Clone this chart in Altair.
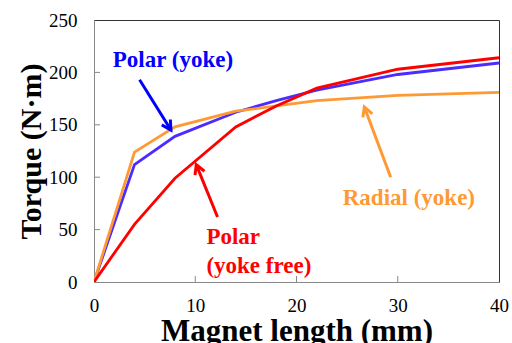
import math
import altair as alt
import pandas as pd

# ---- data ----
x_mm = [0, 4, 8, 14, 18, 22, 30, 40]
polar_yoke = [0, 112, 139, 162, 173, 183, 198, 209]
radial_yoke = [0, 124, 148, 163, 168, 173, 178, 181]
polar_free = [0, 55, 99, 148, 168, 185, 203, 214]

series_names = ["Polar (yoke)", "Radial (yoke)", "Polar (yoke free)"]
series_colors = ["#4a2cff", "#ff9933", "#ff0000"]

# annotation arrows (tail x, tail y, tip x, tip y) in data units
arrow_names = ["blue", "red", "orange"]
arrow_x = [4.5, 12.2, 29.3]
arrow_y = [193, 62, 100]
arrow_x2 = [7.6, 10.1, 26.7]
arrow_y2 = [145, 112, 167]
arrow_colors = ["#0000ff", "#ff0000", "#ff9933"]

# annotation labels
label_text = ["Polar (yoke)", "Polar", "(yoke free)", "Radial (yoke)"]
label_x = [7.8, 11.1, 11.1, 31.1]
label_y = [212, 43, 15, 80]
label_align = ["center", "left", "left", "center"]
label_colors = ["#0000ff", "#ff0000", "#ff0000", "#ff9933"]

x_ticks = [10, 20, 30]
y_ticks = [50, 100, 150, 200]

W, H = 405, 262
XMAX, YMAX = 40, 250
sx, sy = W / XMAX, H / YMAX

rows = []
for name, vals in zip(series_names, [polar_yoke, radial_yoke, polar_free]):
    for xv, yv in zip(x_mm, vals):
        rows.append({"series": name, "x": xv, "y": yv})
df = pd.DataFrame(rows)

arr = pd.DataFrame({"name": arrow_names, "x": arrow_x, "y": arrow_y,
                    "x2": arrow_x2, "y2": arrow_y2, "color": arrow_colors})
arr["angle"] = [
    (math.degrees(math.atan2((x2 - x1) * sx, (y2 - y1) * sy)) + 360) % 360
    for x1, y1, x2, y2 in zip(arrow_x, arrow_y, arrow_x2, arrow_y2)
]

lab = pd.DataFrame({"text": label_text, "x": label_x, "y": label_y,
                    "align": label_align, "color": label_colors})

xs = alt.Scale(domain=[0, XMAX], nice=False, zero=True)
ys = alt.Scale(domain=[0, YMAX], nice=False)

FONT = "Times New Roman"

lines = alt.Chart(df).mark_line(strokeWidth=2.8, clip=True).encode(
    x=alt.X("x:Q", scale=xs, title="Magnet length (mm)",
            axis=alt.Axis(values=[0, 10, 20, 30, 40], ticks=False, grid=False,
                          labelFlush=False, labelBound=False,
                          labelFontSize=19, labelFont=FONT, labelColor="black",
                          labelPadding=14, domainColor="#888888",
                          titleFont=FONT, titleFontSize=31, titleFontWeight="bold",
                          titleColor="black", titlePadding=1)),
    y=alt.Y("y:Q", scale=ys, title="Torque (N·m)",
            axis=alt.Axis(values=[0, 50, 100, 150, 200, 250], ticks=False, grid=False,
                          labelFlush=False, labelBound=False,
                          labelFontSize=19, labelFont=FONT, labelColor="black",
                          labelPadding=17, domainColor="#888888",
                          titleFont=FONT, titleFontSize=30, titleFontWeight="bold",
                          titleColor="black", titlePadding=2)),
    color=alt.Color("series:N", scale=alt.Scale(domain=series_names, range=series_colors),
                    legend=None),
    order=alt.Order("x:Q"),
)

xt = pd.DataFrame({"x": x_ticks})
xtick = alt.Chart(xt).mark_rule(color="#888888", strokeWidth=1).encode(
    x=alt.X("x:Q", scale=xs), y=alt.value(H), y2=alt.value(H - 6))
yt = pd.DataFrame({"y": y_ticks})
ytick = alt.Chart(yt).mark_rule(color="#888888", strokeWidth=1).encode(
    y=alt.Y("y:Q", scale=ys), x=alt.value(0), x2=alt.value(6))

shafts = alt.Chart(arr).mark_rule(strokeWidth=3).encode(
    x=alt.X("x:Q", scale=xs), y=alt.Y("y:Q", scale=ys),
    x2="x2:Q", y2="y2:Q",
    color=alt.Color("color:N", scale=None),
)
heads = alt.Chart(arr).mark_point(
    shape="M-0.55,1L0,0L0.55,1", filled=False, strokeWidth=3, size=340, opacity=1,
).encode(
    x=alt.X("x2:Q", scale=xs), y=alt.Y("y2:Q", scale=ys),
    angle=alt.Angle("angle:Q", scale=None),
    color=alt.Color("color:N", scale=None),
)

texts = alt.layer(*[
    alt.Chart(lab[lab["align"] == a]).mark_text(
        font=FONT, fontSize=23, fontWeight="bold", align=a, baseline="middle"
    ).encode(
        x=alt.X("x:Q", scale=xs), y=alt.Y("y:Q", scale=ys),
        text="text:N", color=alt.Color("color:N", scale=None),
    ) for a in ["center", "left"]
])

chart = alt.layer(lines, xtick, ytick, shafts, heads, texts).properties(
    width=W, height=H,
    autosize=alt.AutoSizeParams(type="none"),
    padding={"left": 94, "top": 20, "right": 13, "bottom": 61},
    background="white",
).configure_view(stroke="#333333", strokeWidth=1)

chart.save("out.html", embed_options={"renderer": "svg", "actions": False})
